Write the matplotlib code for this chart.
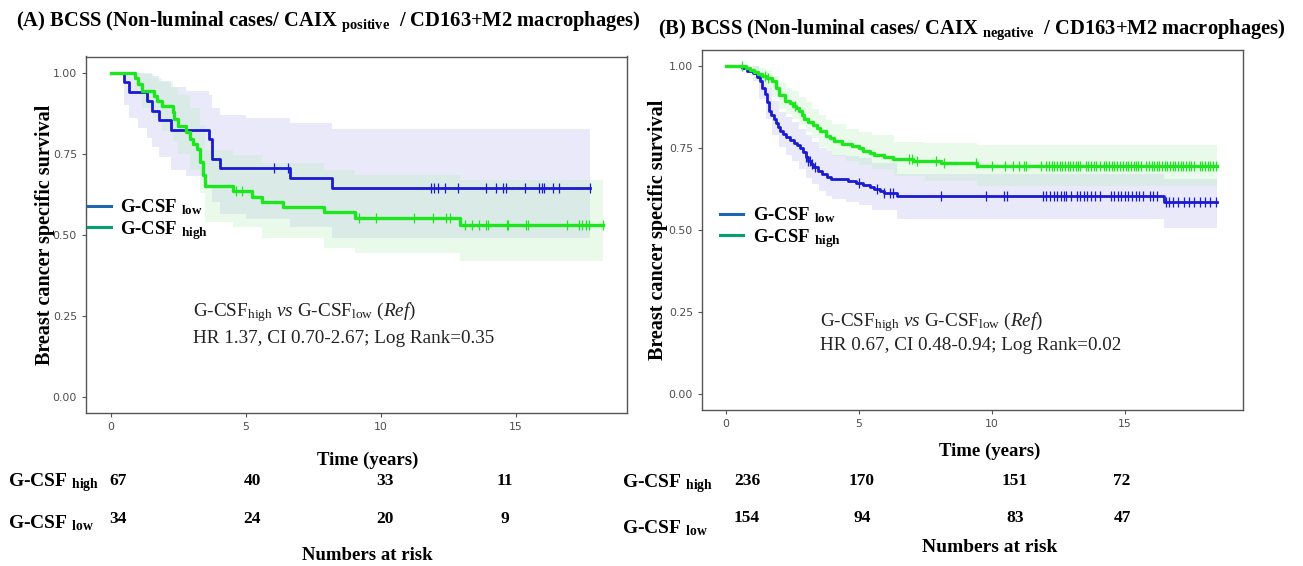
import matplotlib
matplotlib.use("Agg")
import matplotlib.pyplot as plt
from matplotlib.lines import Line2D
import numpy as np

plt.rcParams['font.family'] = ['Liberation Serif', 'DejaVu Serif']
plt.rcParams['mathtext.fontset'] = 'custom'
plt.rcParams['mathtext.rm'] = 'Liberation Serif'
plt.rcParams['mathtext.it'] = 'Liberation Serif:italic'
plt.rcParams['mathtext.bf'] = 'Liberation Serif:bold'

# ---- panel A: CAIX positive ----
a_low_t = [0, 0.51, 0.70, 1.34, 1.53, 1.79, 2.23, 3.63, 3.76, 4.06, 6.63, 8.20]
a_low_s = [1.0, 0.971, 0.941, 0.912, 0.882, 0.853, 0.824, 0.794, 0.735, 0.706, 0.674, 0.643]
a_low_end = 17.75
a_low_cens = [6.06, 6.57, 11.86, 11.99, 12.14, 12.37, 12.88, 13.90, 14.28, 14.54, 14.63,
              15.33, 15.88, 15.96, 16.04, 16.39, 16.60, 17.75]
a_low_band_t = [0, 0.51, 0.70, 1.0, 1.34, 1.53, 1.79, 2.23, 2.8, 3.63, 3.76, 4.06, 5.0, 6.63, 8.20]
a_low_lo = [1.0, 0.90, 0.86, 0.83, 0.80, 0.77, 0.74, 0.70, 0.68, 0.655, 0.60, 0.565, 0.55, 0.525, 0.49]
a_low_hi = [1.0, 1.0, 1.0, 1.0, 1.0, 0.99, 0.975, 0.955, 0.945, 0.93, 0.89, 0.87, 0.86, 0.845, 0.827]

a_high_t = [0, 0.89, 1.02, 1.15, 1.59, 1.72, 1.91, 2.30, 2.36, 2.49, 2.81, 2.93, 3.06,
            3.19, 3.32, 3.44, 3.51, 4.53, 5.23, 5.61, 6.38, 7.91, 9.05, 12.94]
a_high_s = [1.0, 0.985, 0.965, 0.945, 0.929, 0.914, 0.898, 0.878, 0.857, 0.837, 0.816,
            0.796, 0.781, 0.765, 0.724, 0.683, 0.650, 0.635, 0.618, 0.601, 0.585, 0.570,
            0.552, 0.529]
a_high_end = 18.24
a_high_cens = [4.65, 4.85, 9.18, 9.82, 11.22, 11.92, 12.43, 12.56, 13.13, 13.39, 13.65,
               13.90, 13.96, 14.66, 14.72, 15.37, 15.46, 16.90, 17.34, 17.47, 17.60, 17.70,
               18.24]
a_high_band_t = [0, 0.89, 1.15, 1.59, 1.91, 2.30, 2.49, 2.93, 3.32, 3.51, 4.53, 5.61, 7.91, 9.05, 12.94]
a_high_lo = [1.0, 0.95, 0.89, 0.86, 0.82, 0.79, 0.75, 0.70, 0.63, 0.54, 0.525, 0.49, 0.46, 0.445, 0.42]
a_high_hi = [1.0, 1.0, 0.995, 0.985, 0.97, 0.955, 0.93, 0.89, 0.84, 0.76, 0.745, 0.72, 0.70, 0.685, 0.67]

a_risk_high = [67, 40, 33, 11]
a_risk_low = [34, 24, 20, 9]

# ---- panel B: CAIX negative ----
b_low_t = [0, 0.6, 0.8, 1.0, 1.15, 1.27, 1.35, 1.45, 1.55, 1.61, 1.70, 1.80, 1.87, 1.95,
           2.05, 2.14, 2.25, 2.41, 2.55, 2.68, 2.80, 2.88, 3.00, 3.08, 3.18, 3.28, 3.45,
           3.62, 3.80, 3.95, 4.6, 4.9, 5.16, 5.4, 5.56, 5.8, 5.96, 6.43, 16.47]
b_low_s = [1.0, 0.994, 0.987, 0.980, 0.967, 0.954, 0.935, 0.915, 0.890, 0.863, 0.850,
           0.840, 0.828, 0.815, 0.803, 0.792, 0.784, 0.774, 0.767, 0.760, 0.750, 0.737,
           0.724, 0.711, 0.701, 0.691, 0.681, 0.671, 0.663, 0.656, 0.650, 0.644, 0.636,
           0.630, 0.624, 0.618, 0.612, 0.605, 0.585]
b_low_end = 18.48
b_low_cens = [3.01, 3.08, 3.17, 3.25, 3.35, 5.02, 5.69, 5.96, 6.16, 6.29, 8.10, 9.78,
              10.45, 10.58, 11.92, 12.05, 12.19, 12.32, 12.45, 12.59, 12.72, 12.79, 12.99,
              13.19, 13.33, 13.46, 13.59, 13.73, 13.86, 14.06, 14.46, 14.60, 14.73, 14.87,
              15.00, 15.13, 15.27, 15.40, 15.54, 15.67, 15.94, 16.07, 16.20, 16.54, 16.67,
              16.81, 17.01, 17.21, 17.41, 17.61, 17.81, 18.01, 18.21, 18.41]
b_low_band_t = [0, 1.0, 1.25, 1.5, 1.75, 2.0, 2.25, 2.5, 2.75, 3.0, 3.25, 3.5, 3.75, 4.0,
                4.5, 5.0, 5.5, 6.43, 16.47]
b_low_lo = [1.0, 0.955, 0.90, 0.84, 0.79, 0.755, 0.73, 0.71, 0.685, 0.66, 0.64, 0.62,
            0.605, 0.595, 0.585, 0.575, 0.56, 0.535, 0.505]
b_low_hi = [1.0, 1.0, 0.97, 0.935, 0.895, 0.86, 0.845, 0.83, 0.81, 0.79, 0.77, 0.75,
            0.74, 0.73, 0.725, 0.72, 0.705, 0.67, 0.655]

b_high_t = [0, 0.74, 0.9, 1.05, 1.2, 1.34, 1.55, 1.75, 1.87, 2.0, 2.21, 2.40, 2.54, 2.65,
            2.75, 2.85, 2.95, 3.1, 3.28, 3.42, 3.55, 3.75, 3.9, 4.08, 4.35, 4.75, 5.0,
            5.16, 5.4, 5.56, 5.96, 6.29, 7.03, 8.10, 9.44]
b_high_s = [1.0, 0.996, 0.990, 0.984, 0.977, 0.970, 0.964, 0.955, 0.935, 0.914, 0.895,
            0.889, 0.880, 0.872, 0.863, 0.852, 0.840, 0.830, 0.822, 0.812, 0.802, 0.788,
            0.780, 0.772, 0.764, 0.757, 0.750, 0.742, 0.736, 0.730, 0.722, 0.716, 0.711,
            0.705, 0.696]
b_high_end = 18.48
b_high_cens = [0.6, 1.47, 1.6, 2.6, 6.9, 7.0, 7.2, 7.9, 8.2, 9.4, 10.0, 10.5, 10.8, 11.0,
               11.2, 11.3, 11.85, 12.05, 12.15, 12.25, 12.35, 12.45, 12.55, 12.65, 12.75,
               12.85, 12.95, 13.05, 13.15, 13.25, 13.33, 13.53, 13.63, 13.73, 13.83, 13.93,
               14.06, 14.20, 14.30, 14.40, 14.50, 14.60, 14.70, 14.80, 14.93, 15.03, 15.13,
               15.23, 15.33, 15.43, 15.50, 15.60, 15.80, 15.90, 16.00, 16.10, 16.20, 16.30,
               16.40, 16.50, 16.60, 16.70, 16.80, 16.90, 17.00, 17.10, 17.20, 17.30, 17.40,
               17.50, 17.61, 17.81, 17.91, 18.01, 18.11, 18.21, 18.31, 18.41]
b_high_band_t = [0, 1.0, 1.25, 1.5, 1.75, 2.0, 2.25, 2.5, 2.75, 3.0, 3.25, 3.5, 3.75,
                 4.0, 4.5, 5.0, 5.5, 6.3, 7.5, 9.44]
b_high_lo = [1.0, 0.97, 0.955, 0.935, 0.905, 0.87, 0.855, 0.84, 0.82, 0.80, 0.78, 0.755,
             0.74, 0.725, 0.71, 0.70, 0.685, 0.665, 0.65, 0.635]
b_high_hi = [1.0, 1.0, 0.995, 0.99, 0.97, 0.95, 0.935, 0.925, 0.905, 0.89, 0.87, 0.85,
             0.835, 0.825, 0.81, 0.80, 0.79, 0.77, 0.765, 0.76]

b_risk_high = [236, 170, 151, 72]
b_risk_low = [154, 94, 83, 47]

x_ticks = [0, 5, 10, 15]
y_ticks = [0.0, 0.25, 0.50, 0.75, 1.00]

BLUE = '#1a1ad0'
GREEN = '#1ee61e'
BLUE_LEG = '#1f66b0'
GREEN_LEG = '#00a070'

W, H = 1303, 566
fig = plt.figure(figsize=(W / 100, H / 100), dpi=100)


def px(x, y):
    return x / W, 1 - y / H


def axes_px(l, t, r, b):
    return fig.add_axes([l / W, 1 - b / H, (r - l) / W, (b - t) / H])


def km(ax, t, s, t_end, cens, band_t, lo, hi, color, band_color, band_alpha, lw):
    bt = band_t + [t_end]
    ax.fill_between(bt, lo + [lo[-1]], hi + [hi[-1]], step='post',
                    color=band_color, alpha=band_alpha, lw=0)
    ax.step(t + [t_end], s + [s[-1]], where='post', color=color, lw=lw)
    idx = np.searchsorted(t, cens, side='right') - 1
    ax.plot(cens, np.array(s)[idx], ls='none', marker='|', ms=7, mew=0.9, color=color)


def style(ax, xlim):
    ax.set_xlim(*xlim)
    ax.set_ylim(-0.05, 1.05)
    ax.set_xticks(x_ticks)
    ax.set_yticks(y_ticks)
    ax.set_yticklabels(['%.2f' % v for v in y_ticks])
    for sp in ax.spines.values():
        sp.set_color('#555555')
        sp.set_linewidth(1.0)
    ax.tick_params(colors='#555555', labelcolor='#4d4d4d', length=3, width=0.8,
                   labelsize=7.8)
    for lab in ax.get_xticklabels() + ax.get_yticklabels():
        lab.set_family('DejaVu Sans')


def legend(ax, y):
    h = [Line2D([], [], color=BLUE_LEG, lw=2.2), Line2D([], [], color=GREEN_LEG, lw=2.2)]
    ax.legend(h, [r'G-CSF $_{\mathbf{low}}$', r'G-CSF $_{\mathbf{high}}$'],
              loc='center left', bbox_to_anchor=y, frameon=False,
              prop={'family': 'Liberation Serif', 'weight': 'bold', 'size': 13.5},
              handlelength=1.25, handletextpad=0.5, borderpad=0, borderaxespad=0,
              labelspacing=0.1)


ann = dict(fontsize=13.8, color='#222222', va='center')

# ---- panel A ----
axA = axes_px(86, 56.5, 627, 413)
km(axA, a_low_t, a_low_s, a_low_end, a_low_cens, a_low_band_t, a_low_lo, a_low_hi,
   BLUE, '#c8c8f0', 0.4, 2.0)
km(axA, a_high_t, a_high_s, a_high_end, a_high_cens, a_high_band_t, a_high_lo, a_high_hi,
   GREEN, '#b8f0c0', 0.3, 2.4)
style(axA, (-0.91, 19.12))
legend(axA, (0.003, 0.543))
axA.set_ylabel('Breast cancer specific survival', fontsize=14.5, fontweight='bold')
axA.yaxis.set_label_coords(-0.057, 0.5)
axA.set_xlabel('Time (years)', fontsize=13.5, fontweight='bold')
axA.xaxis.set_label_coords(0.52, -0.108)
axA.text(0.198, 0.283, r'G-CSF$_{\mathrm{high}}$ $vs$ G-CSF$_{\mathrm{low}}$ ($Ref$)',
         transform=axA.transAxes, **ann)
axA.text(0.198, 0.21, 'HR 1.37, CI 0.70-2.67; Log Rank=0.35',
         transform=axA.transAxes, **ann)

# ---- panel B ----
axB = axes_px(702, 50, 1243, 410)
km(axB, b_low_t, b_low_s, b_low_end, b_low_cens, b_low_band_t, b_low_lo, b_low_hi,
   BLUE, '#c8c8f0', 0.4, 2.0)
km(axB, b_high_t, b_high_s, b_high_end, b_high_cens, b_high_band_t, b_high_lo, b_high_hi,
   GREEN, '#b8f0c0', 0.3, 2.4)
style(axB, (-0.90, 19.44))
legend(axB, (0.033, 0.507))
axB.set_ylabel('Breast cancer specific survival', fontsize=14.5, fontweight='bold')
axB.yaxis.set_label_coords(-0.062, 0.5)
axB.set_xlabel('Time (years)', fontsize=13.5, fontweight='bold')
axB.xaxis.set_label_coords(0.532, -0.09)
axB.text(0.218, 0.244, r'G-CSF$_{\mathrm{high}}$ $vs$ G-CSF$_{\mathrm{low}}$ ($Ref$)',
         transform=axB.transAxes, **ann)
axB.text(0.218, 0.18, 'HR 0.67, CI 0.48-0.94; Log Rank=0.02',
         transform=axB.transAxes, **ann)

# ---- titles ----
bold = dict(fontweight='bold', fontsize=14.8, ha='center', va='center')
fig.text(*px(328, 22), r'(A) BCSS (Non-luminal cases/ CAIX $_{\mathbf{positive}}$  / CD163+M2 macrophages)', **bold)
fig.text(*px(972, 30), r'(B) BCSS (Non-luminal cases/ CAIX $_{\mathbf{negative}}$  / CD163+M2 macrophages)', **bold)

# ---- numbers at risk ----
lab = dict(fontweight='bold', fontsize=14, va='center')
num = dict(fontweight='bold', fontsize=12.5, va='center', ha='center')
fig.text(*px(8, 483), r'G-CSF $_{\mathbf{high}}$', **lab)
fig.text(*px(8, 523), r'G-CSF $_{\mathbf{low}}$', **lab)
for xpos, hi, lo in zip([118, 252, 385, 505], a_risk_high, a_risk_low):
    fig.text(*px(xpos, 481), str(hi), **num)
    fig.text(*px(xpos, 519), str(lo), **num)
fig.text(*px(367, 556), 'Numbers at risk', ha='center', fontweight='bold', fontsize=13.5,
         va='center')

fig.text(*px(622, 484), r'G-CSF $_{\mathbf{high}}$', **lab)
fig.text(*px(622, 528), r'G-CSF $_{\mathbf{low}}$', **lab)
for xpos, hi, lo in zip([747, 862, 1015, 1122], b_risk_high, b_risk_low):
    fig.text(*px(xpos, 481), str(hi), **num)
    fig.text(*px(xpos, 518), str(lo), **num)
fig.text(*px(990, 548), 'Numbers at risk', ha='center', fontweight='bold', fontsize=14,
         va='center')

fig.savefig('out.png', dpi=100, facecolor='white')
